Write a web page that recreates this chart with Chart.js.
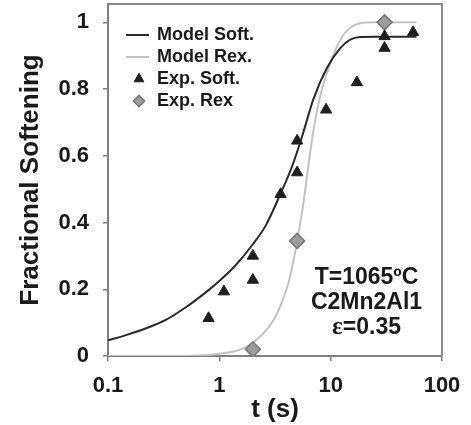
<!DOCTYPE html>
<html>
<head>
<meta charset="utf-8">
<script src="https://cdn.jsdelivr.net/npm/chart.js@4"></script>
<style>
  body { margin: 0; background: #fff; }
  #wrap { width: 471px; height: 425px; }
</style>
</head>
<body>
<div id="wrap"><canvas id="softChart"></canvas></div>
<script>
// model curves
var softT = [0.1, 0.15, 0.22, 0.33, 0.5, 0.75, 1, 1.4, 2, 2.6, 3.5, 4.5, 5.5, 7, 9.25, 12.2, 15, 18.4, 25, 59];
var softY = [0.047, 0.064, 0.083, 0.108, 0.146, 0.19, 0.225, 0.272, 0.335, 0.39, 0.482, 0.568, 0.655, 0.77, 0.863, 0.923, 0.948, 0.956, 0.957, 0.957];
var rexT = [0.1, 0.5, 0.7, 1, 1.4, 1.8, 2.4, 3.1, 3.65, 4.2, 4.65, 5, 5.7, 6.3, 7, 8, 9.5, 11.3, 13, 15, 18.4, 25, 59];
var rexY = [0, 0, 0.002, 0.007, 0.015, 0.03, 0.062, 0.11, 0.162, 0.222, 0.288, 0.345, 0.46, 0.57, 0.675, 0.775, 0.86, 0.925, 0.962, 0.984, 0.997, 1.0, 1.0];

// experimental points
var expSoftT = [0.8, 1.1, 2, 2, 3.55, 5, 5, 9.1, 17.2, 30.5, 30.5, 55];
var expSoftY = [0.113, 0.193, 0.30, 0.228, 0.485, 0.645, 0.55, 0.738, 0.82, 0.958, 0.923, 0.97];
var expRexT = [2, 5, 30.5];
var expRexY = [0.02, 0.345, 1.0];

var xTicks = [0.1, 1, 10, 100];
var yTicks = [0, 0.2, 0.4, 0.6, 0.8, 1];
var noteLines = ['T=1065ºC', 'C2Mn2Al1', 'ε=0.35'];

var FONT = '"Liberation Sans", Arial, sans-serif';
var INK = '#1a1a1a';

function pairs(xs, ys) {
    return xs.map(function (x, i) { return { x: x, y: ys[i] }; });
}

// legend sample for the line series (line sits left of centre like the original)
function lineSwatch(color) {
    var c = document.createElement('canvas');
    c.width = 44; c.height = 2;
    var g = c.getContext('2d');
    g.fillStyle = color;
    g.fillRect(0, 0, 32, 2);
    return c;
}

var framePlugin = {
    id: 'frame',
    beforeDatasetsDraw: function (chart) {
        var a = chart.chartArea, ctx = chart.ctx;
        ctx.save();
        ctx.strokeStyle = '#8a8a8a';
        ctx.lineWidth = 2;
        ctx.beginPath();
        ctx.moveTo(a.left, a.top);
        ctx.lineTo(a.right, a.top);
        ctx.lineTo(a.right, a.bottom);
        ctx.stroke();
        ctx.restore();
    }
};

var legendShift = {
    id: 'legendShift',
    afterLayout: function (chart) {
        var lg = chart.legend;
        lg.left += 18; lg.right += 18;
        lg.top += 22; lg.bottom += 22;
    }
};

var notePlugin = {
    id: 'note',
    afterDatasetsDraw: function (chart) {
        var ctx = chart.ctx;
        var x = chart.scales.x.getPixelForValue(21);
        var y0 = chart.scales.y.getPixelForValue(0.236);
        ctx.save();
        ctx.fillStyle = INK;
        ctx.textBaseline = 'middle';
        noteLines.forEach(function (t, i) {
            var y = y0 + i * 25;
            if (t.charAt(0) === 'ε') {
                var head = 'ε', rest = t.slice(1);
                ctx.font = 'bold 25px "Liberation Serif", serif';
                var w1 = ctx.measureText(head).width;
                ctx.font = 'bold 23px ' + FONT;
                var w2 = ctx.measureText(rest).width;
                var sx = x - (w1 + w2) / 2;
                ctx.textAlign = 'left';
                ctx.font = 'bold 25px "Liberation Serif", serif';
                ctx.fillText(head, sx, y);
                ctx.font = 'bold 23px ' + FONT;
                ctx.fillText(rest, sx + w1, y);
            } else {
                ctx.textAlign = 'center';
                ctx.font = 'bold 23px ' + FONT;
                ctx.fillText(t, x, y);
            }
        });
        ctx.restore();
    }
};

new Chart(document.getElementById('softChart'), {
    type: 'scatter',
    data: {
        datasets: [
            {
                label: 'Model Soft.', type: 'line', data: pairs(softT, softY),
                borderColor: '#2a2a2a', borderWidth: 2, pointRadius: 0,
                pointStyle: lineSwatch('#2a2a2a'),
                cubicInterpolationMode: 'monotone', fill: false, order: 2
            },
            {
                label: 'Model Rex.', type: 'line', data: pairs(rexT, rexY),
                borderColor: '#c2c2c2', borderWidth: 2, pointRadius: 0,
                pointStyle: lineSwatch('#c2c2c2'),
                cubicInterpolationMode: 'monotone', fill: false, order: 3
            },
            {
                label: 'Exp. Soft.', data: pairs(expSoftT, expSoftY),
                pointStyle: 'triangle', pointRadius: 6.5,
                backgroundColor: '#1e1e1e', borderColor: '#1e1e1e', borderWidth: 1, order: 1
            },
            {
                label: 'Exp. Rex', data: pairs(expRexT, expRexY),
                pointStyle: 'rectRot', pointRadius: 7.5,
                backgroundColor: '#9c9c9c', borderColor: '#767676', borderWidth: 1.5, order: 1
            }
        ]
    },
    options: {
        responsive: true,
        maintainAspectRatio: false,
        animation: false,
        events: [],
        layout: { autoPadding: false, padding: { top: 4, right: 29, left: 0, bottom: 0 } },
        plugins: {
            tooltip: { enabled: false },
            legend: {
                position: 'chartArea',
                fullSize: false,
                align: 'start',
                labels: {
                    usePointStyle: true,
                    boxHeight: 8,
                    padding: 4,
                    color: INK,
                    font: { family: FONT, size: 18, weight: 'bold' },
                    sort: function (a, b) { return a.datasetIndex - b.datasetIndex; }
                }
            }
        },
        scales: {
            x: {
                type: 'logarithmic', min: 0.1, max: 100,
                afterBuildTicks: function (s) { s.ticks = xTicks.map(function (v) { return { value: v }; }); },
                afterFit: function (s) { s.height = 69; s.paddingLeft = 0; s.paddingRight = 0; },
                grid: { drawOnChartArea: false, drawTicks: true, tickLength: 5, color: '#808080', lineWidth: 1.5 },
                border: { color: '#808080', width: 2 },
                ticks: {
                    autoSkip: false, maxRotation: 0, padding: 12, color: INK,
                    font: { family: FONT, size: 22, weight: 'bold' },
                    callback: function (v) { return String(v); }
                },
                title: {
                    display: true, text: 't (s)', color: INK,
                    font: { family: FONT, size: 26, weight: 'bold' },
                    padding: { top: 0, bottom: 0 }
                }
            },
            y: {
                type: 'linear', min: 0, max: 1.055,
                afterBuildTicks: function (s) { s.ticks = yTicks.map(function (v) { return { value: v }; }); },
                afterFit: function (s) { s.width = 108; s.paddingTop = 0; s.paddingBottom = 0; },
                grid: { drawOnChartArea: false, drawTicks: true, tickLength: 5, color: '#808080', lineWidth: 1.5 },
                border: { color: '#808080', width: 2 },
                ticks: {
                    padding: 14, color: INK,
                    font: { family: FONT, size: 22, weight: 'bold' },
                    callback: function (v) { return String(v); }
                },
                title: {
                    display: true, text: 'Fractional Softening', color: INK,
                    font: { family: FONT, size: 26, weight: 'bold' },
                    padding: { top: 15, bottom: 0 }
                }
            }
        }
    },
    plugins: [framePlugin, legendShift, notePlugin]
});
</script>
</body>
</html>
